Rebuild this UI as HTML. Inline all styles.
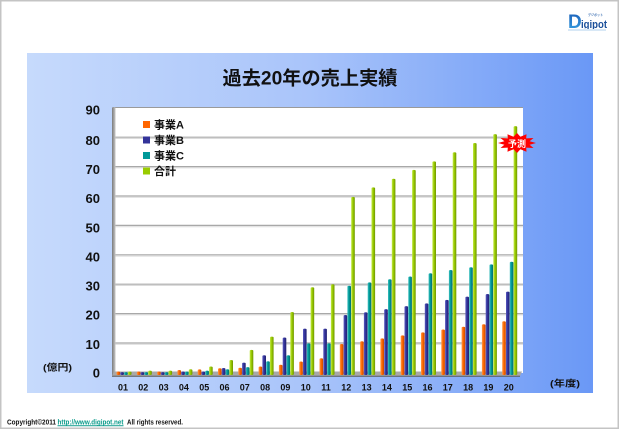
<!DOCTYPE html>
<html><head><meta charset="utf-8"><style>
html,body{margin:0;padding:0;background:#fff;}
svg{display:block;}
text{font-family:"Liberation Sans","Noto Sans CJK JP",sans-serif;font-weight:bold;}
</style></head><body>
<svg width="620" height="430" viewBox="0 0 620 430" xmlns="http://www.w3.org/2000/svg">
<defs>
<linearGradient id="pg" x1="0" y1="0" x2="1" y2="0">
<stop offset="0" stop-color="#c6dafc"/><stop offset="0.5" stop-color="#a9c4fa"/><stop offset="1" stop-color="#6a98f6"/>
</linearGradient>
<linearGradient id="go" x1="0" y1="0" x2="1" y2="0"><stop offset="0" stop-color="#ff9a4a"/><stop offset="0.45" stop-color="#ff6a00"/><stop offset="1" stop-color="#c84800"/></linearGradient>
<linearGradient id="gb" x1="0" y1="0" x2="1" y2="0"><stop offset="0" stop-color="#5a5ac0"/><stop offset="0.45" stop-color="#333399"/><stop offset="1" stop-color="#1f1f70"/></linearGradient>
<linearGradient id="gt" x1="0" y1="0" x2="1" y2="0"><stop offset="0" stop-color="#3cc0c0"/><stop offset="0.45" stop-color="#009999"/><stop offset="1" stop-color="#006d6d"/></linearGradient>
<linearGradient id="gg" x1="0" y1="0" x2="1" y2="0"><stop offset="0" stop-color="#c4e84a"/><stop offset="0.45" stop-color="#99cc00"/><stop offset="1" stop-color="#6f9400"/></linearGradient>
<linearGradient id="wall" x1="0" y1="0" x2="1" y2="0"><stop offset="0" stop-color="#7a7a7a"/><stop offset="1" stop-color="#c8c8c8"/></linearGradient>
<linearGradient id="logoD" x1="0" y1="0" x2="0" y2="1"><stop offset="0" stop-color="#1b5fb8"/><stop offset="1" stop-color="#3aa6e6"/></linearGradient>
</defs>

<!-- outer frame -->
<rect x="0.75" y="0.75" width="617.5" height="427.5" fill="#fff" stroke="#c4c4c4" stroke-width="1.5"/>

<!-- logo -->
<text x="568" y="28" font-size="19" fill="url(#logoD)">D</text>
<text x="581" y="28" font-size="11" fill="#1a4f9a" textLength="26" lengthAdjust="spacingAndGlyphs">igipot</text>
<text x="588" y="16" font-size="3.5" fill="#4a7ab8" textLength="15" lengthAdjust="spacingAndGlyphs">デジポット</text>
<rect x="568" y="29" width="38" height="2" fill="#d8e8f6"/>

<!-- panel -->
<rect x="27" y="53" width="566" height="340" fill="url(#pg)"/>

<!-- title -->
<text x="310" y="84.5" font-size="19" fill="#111" text-anchor="middle" textLength="175" lengthAdjust="spacingAndGlyphs">過去20年の売上実績</text>

<!-- plot back wall -->
<rect x="114" y="107" width="409" height="266" fill="#fff"/>
<line x1="114" y1="107.5" x2="523" y2="107.5" stroke="#9a9a9a" stroke-width="1"/>
<g stroke="#a8a8a8" stroke-width="1.2">
<line x1="115" y1="137.2" x2="523" y2="137.2"/>
<line x1="115" y1="166.6" x2="523" y2="166.6"/>
<line x1="115" y1="196.0" x2="523" y2="196.0"/>
<line x1="115" y1="225.4" x2="523" y2="225.4"/>
<line x1="115" y1="254.8" x2="523" y2="254.8"/>
<line x1="115" y1="284.2" x2="523" y2="284.2"/>
<line x1="115" y1="313.6" x2="523" y2="313.6"/>
<line x1="115" y1="343.0" x2="523" y2="343.0"/>
</g>
<g stroke="#dcdcdc" stroke-width="1">
<line x1="115" y1="138.5" x2="523" y2="138.5"/>
<line x1="115" y1="167.9" x2="523" y2="167.9"/>
<line x1="115" y1="197.3" x2="523" y2="197.3"/>
<line x1="115" y1="226.7" x2="523" y2="226.7"/>
<line x1="115" y1="256.1" x2="523" y2="256.1"/>
<line x1="115" y1="285.5" x2="523" y2="285.5"/>
<line x1="115" y1="314.9" x2="523" y2="314.9"/>
<line x1="115" y1="344.3" x2="523" y2="344.3"/>
</g>
<!-- left wall -->
<rect x="112" y="107" width="3.5" height="269" rx="1.5" fill="url(#wall)"/>
<!-- floor -->
<polygon points="114,371.5 522,371.5 520,376 112,376" fill="#a8a8a8"/>
<line x1="112" y1="376.3" x2="520" y2="376.3" stroke="#5a5a5a" stroke-width="1"/>

<!-- bars: orange -->
<g fill="url(#go)">
<rect x="116.5" y="371.5" width="3.6" height="3.5" rx="1.8" ry="1"/>
<rect x="136.8" y="371.5" width="3.6" height="3.5" rx="1.8" ry="1"/>
<rect x="157.1" y="371.5" width="3.6" height="3.5" rx="1.8" ry="1"/>
<rect x="177.4" y="370.0" width="3.6" height="5.0" rx="1.8" ry="1"/>
<rect x="197.7" y="369.4" width="3.6" height="5.6" rx="1.8" ry="1"/>
<rect x="218.0" y="368.3" width="3.6" height="6.7" rx="1.8" ry="1"/>
<rect x="238.3" y="367.7" width="3.6" height="7.3" rx="1.8" ry="1"/>
<rect x="258.6" y="366.5" width="3.6" height="8.5" rx="1.8" ry="1"/>
<rect x="278.9" y="364.7" width="3.6" height="10.3" rx="1.8" ry="1"/>
<rect x="299.2" y="361.5" width="3.6" height="13.5" rx="1.8" ry="1"/>
<rect x="319.5" y="358.2" width="3.6" height="16.8" rx="1.8" ry="1"/>
<rect x="339.8" y="344.0" width="3.6" height="31.0" rx="1.8" ry="1"/>
<rect x="360.1" y="341.3" width="3.6" height="33.7" rx="1.8" ry="1"/>
<rect x="380.4" y="338.4" width="3.6" height="36.6" rx="1.8" ry="1"/>
<rect x="400.7" y="335.4" width="3.6" height="39.6" rx="1.8" ry="1"/>
<rect x="421.0" y="332.4" width="3.6" height="42.6" rx="1.8" ry="1"/>
<rect x="441.3" y="329.5" width="3.6" height="45.5" rx="1.8" ry="1"/>
<rect x="461.6" y="326.8" width="3.6" height="48.2" rx="1.8" ry="1"/>
<rect x="481.9" y="324.2" width="3.6" height="50.8" rx="1.8" ry="1"/>
<rect x="502.2" y="321.2" width="3.6" height="53.8" rx="1.8" ry="1"/>
</g>
<!-- blue -->
<g fill="url(#gb)">
<rect x="120.3" y="372.1" width="3.6" height="2.9" rx="1.8" ry="1"/>
<rect x="140.6" y="372.1" width="3.6" height="2.9" rx="1.8" ry="1"/>
<rect x="160.9" y="372.1" width="3.6" height="2.9" rx="1.8" ry="1"/>
<rect x="181.2" y="371.5" width="3.6" height="3.5" rx="1.8" ry="1"/>
<rect x="201.5" y="371.5" width="3.6" height="3.5" rx="1.8" ry="1"/>
<rect x="221.8" y="368.0" width="3.6" height="7.0" rx="1.8" ry="1"/>
<rect x="242.1" y="362.6" width="3.6" height="12.4" rx="1.8" ry="1"/>
<rect x="262.4" y="355.2" width="3.6" height="19.8" rx="1.8" ry="1"/>
<rect x="282.7" y="337.5" width="3.6" height="37.5" rx="1.8" ry="1"/>
<rect x="303.0" y="328.6" width="3.6" height="46.4" rx="1.8" ry="1"/>
<rect x="323.3" y="328.6" width="3.6" height="46.4" rx="1.8" ry="1"/>
<rect x="343.6" y="315.0" width="3.6" height="60.0" rx="1.8" ry="1"/>
<rect x="363.9" y="312.3" width="3.6" height="62.7" rx="1.8" ry="1"/>
<rect x="384.2" y="309.1" width="3.6" height="65.9" rx="1.8" ry="1"/>
<rect x="404.5" y="306.1" width="3.6" height="68.9" rx="1.8" ry="1"/>
<rect x="424.8" y="303.4" width="3.6" height="71.6" rx="1.8" ry="1"/>
<rect x="445.1" y="299.9" width="3.6" height="75.1" rx="1.8" ry="1"/>
<rect x="465.4" y="296.6" width="3.6" height="78.4" rx="1.8" ry="1"/>
<rect x="485.7" y="294.0" width="3.6" height="81.0" rx="1.8" ry="1"/>
<rect x="506.0" y="291.6" width="3.6" height="83.4" rx="1.8" ry="1"/>
</g>
<!-- teal -->
<g fill="url(#gt)">
<rect x="124.1" y="372.1" width="3.6" height="2.9" rx="1.8" ry="1"/>
<rect x="144.4" y="372.1" width="3.6" height="2.9" rx="1.8" ry="1"/>
<rect x="164.7" y="372.1" width="3.6" height="2.9" rx="1.8" ry="1"/>
<rect x="185.0" y="371.5" width="3.6" height="3.5" rx="1.8" ry="1"/>
<rect x="205.3" y="370.6" width="3.6" height="4.4" rx="1.8" ry="1"/>
<rect x="225.6" y="369.2" width="3.6" height="5.8" rx="1.8" ry="1"/>
<rect x="245.9" y="367.1" width="3.6" height="7.9" rx="1.8" ry="1"/>
<rect x="266.2" y="361.2" width="3.6" height="13.8" rx="1.8" ry="1"/>
<rect x="286.5" y="355.2" width="3.6" height="19.8" rx="1.8" ry="1"/>
<rect x="306.8" y="343.4" width="3.6" height="31.6" rx="1.8" ry="1"/>
<rect x="327.1" y="343.4" width="3.6" height="31.6" rx="1.8" ry="1"/>
<rect x="347.4" y="285.7" width="3.6" height="89.3" rx="1.8" ry="1"/>
<rect x="367.7" y="282.4" width="3.6" height="92.6" rx="1.8" ry="1"/>
<rect x="388.0" y="279.2" width="3.6" height="95.8" rx="1.8" ry="1"/>
<rect x="408.3" y="276.5" width="3.6" height="98.5" rx="1.8" ry="1"/>
<rect x="428.6" y="273.2" width="3.6" height="101.8" rx="1.8" ry="1"/>
<rect x="448.9" y="270.0" width="3.6" height="105.0" rx="1.8" ry="1"/>
<rect x="469.2" y="267.3" width="3.6" height="107.7" rx="1.8" ry="1"/>
<rect x="489.5" y="264.4" width="3.6" height="110.6" rx="1.8" ry="1"/>
<rect x="509.8" y="261.7" width="3.6" height="113.3" rx="1.8" ry="1"/>
</g>
<!-- green -->
<g fill="url(#gg)">
<rect x="127.9" y="371.5" width="3.6" height="3.5" rx="1.8" ry="1"/>
<rect x="148.2" y="370.6" width="3.6" height="4.4" rx="1.8" ry="1"/>
<rect x="168.5" y="370.6" width="3.6" height="4.4" rx="1.8" ry="1"/>
<rect x="188.8" y="369.2" width="3.6" height="5.8" rx="1.8" ry="1"/>
<rect x="209.1" y="366.5" width="3.6" height="8.5" rx="1.8" ry="1"/>
<rect x="229.4" y="360.0" width="3.6" height="15.0" rx="1.8" ry="1"/>
<rect x="249.7" y="349.9" width="3.6" height="25.1" rx="1.8" ry="1"/>
<rect x="270.0" y="336.6" width="3.6" height="38.4" rx="1.8" ry="1"/>
<rect x="290.3" y="312.0" width="3.6" height="63.0" rx="1.8" ry="1"/>
<rect x="310.6" y="287.2" width="3.6" height="87.8" rx="1.8" ry="1"/>
<rect x="330.9" y="284.2" width="3.6" height="90.8" rx="1.8" ry="1"/>
<rect x="351.2" y="196.9" width="3.6" height="178.1" rx="1.8" ry="1"/>
<rect x="371.5" y="187.4" width="3.6" height="187.6" rx="1.8" ry="1"/>
<rect x="391.8" y="178.8" width="3.6" height="196.2" rx="1.8" ry="1"/>
<rect x="412.1" y="169.9" width="3.6" height="205.1" rx="1.8" ry="1"/>
<rect x="432.4" y="161.4" width="3.6" height="213.6" rx="1.8" ry="1"/>
<rect x="452.7" y="152.2" width="3.6" height="222.8" rx="1.8" ry="1"/>
<rect x="473.0" y="143.0" width="3.6" height="232.0" rx="1.8" ry="1"/>
<rect x="493.3" y="134.1" width="3.6" height="240.9" rx="1.8" ry="1"/>
<rect x="513.6" y="126.1" width="3.6" height="248.9" rx="1.8" ry="1"/>
</g>

<!-- legend -->
<rect x="143" y="121" width="7" height="7" fill="#ff6600"/>
<rect x="143" y="136.5" width="7" height="7" fill="#333399"/>
<rect x="143" y="152" width="7" height="7" fill="#009999"/>
<rect x="143" y="167.5" width="7" height="7" fill="#99cc00"/>
<g font-size="11" fill="#111">
<text x="154" y="128.7">事業A</text>
<text x="154" y="144.2">事業B</text>
<text x="154" y="159.7">事業C</text>
<text x="154" y="175.2">合計</text>
</g>

<!-- y labels -->
<g font-size="13" fill="#111" text-anchor="end">
<text x="100" y="114.7">90</text>
<text x="100" y="145.2">80</text>
<text x="100" y="174.2">70</text>
<text x="100" y="203.2">60</text>
<text x="100" y="232.7">50</text>
<text x="100" y="261.7">40</text>
<text x="100" y="290.7">30</text>
<text x="100" y="319.7">20</text>
<text x="100" y="349.2">10</text>
<text x="100" y="377.7">0</text>
</g>

<!-- x labels -->
<g font-size="9" fill="#111" text-anchor="middle">
<text x="123" y="390.3">01</text>
<text x="143.3" y="390.3">02</text>
<text x="163.6" y="390.3">03</text>
<text x="183.9" y="390.3">04</text>
<text x="204.2" y="390.3">05</text>
<text x="224.5" y="390.3">06</text>
<text x="244.8" y="390.3">07</text>
<text x="265.1" y="390.3">08</text>
<text x="285.4" y="390.3">09</text>
<text x="305.7" y="390.3">10</text>
<text x="326" y="390.3">11</text>
<text x="346.3" y="390.3">12</text>
<text x="366.6" y="390.3">13</text>
<text x="386.9" y="390.3">14</text>
<text x="407.2" y="390.3">15</text>
<text x="427.5" y="390.3">16</text>
<text x="447.8" y="390.3">17</text>
<text x="468.1" y="390.3">18</text>
<text x="488.4" y="390.3">19</text>
<text x="508.7" y="390.3">20</text>
</g>

<!-- unit labels -->
<text x="43" y="370.3" font-size="9" fill="#111" textLength="29" lengthAdjust="spacingAndGlyphs">(億円)</text>
<text x="550" y="386.3" font-size="9" fill="#111" textLength="30" lengthAdjust="spacingAndGlyphs">(年度)</text>

<!-- forecast starburst -->
<polygon points="536,143 529.6,144.7 533.5,148 526.2,147.6 526.5,151.7 520.4,149.3 517,153 513.6,149.3 507.5,151.7 507.8,147.6 500.5,148 504.4,144.7 498,143 504.4,141.3 500.5,138 507.8,138.4 507.5,134.3 513.6,136.7 517,133 520.4,136.7 526.5,134.3 526.2,138.4 533.5,138 529.6,141.3" fill="#ff0000"/>
<text x="517" y="146.8" font-size="9" fill="#fff" text-anchor="middle">予測</text>

<!-- footer -->
<text x="7" y="424.5" font-size="7" fill="#111" textLength="49" lengthAdjust="spacingAndGlyphs">Copyright©2011</text>
<text x="57.5" y="424.5" font-size="7" fill="#0a9a8a" textLength="66" lengthAdjust="spacingAndGlyphs" text-decoration="underline">http://www.digipot.net</text>
<line x1="57.5" y1="425.6" x2="123.5" y2="425.6" stroke="#0a9a8a" stroke-width="0.6"/>
<text x="127" y="424.5" font-size="7" fill="#111" textLength="56" lengthAdjust="spacingAndGlyphs">All rights reserved.</text>
</svg>
</body></html>
